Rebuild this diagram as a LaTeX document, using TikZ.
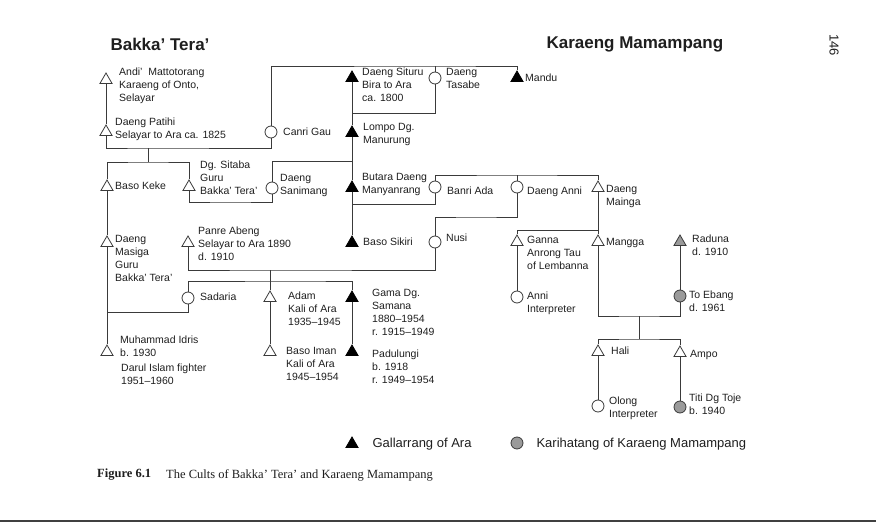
\documentclass[tikz,border=0pt]{standalone}
\usepackage{fontspec}
\setmainfont{Liberation Serif}
\setsansfont{Liberation Sans}
\usetikzlibrary{shapes.geometric}
\definecolor{ink}{HTML}{1E1E1E}
\definecolor{linec}{HTML}{3A3A3A}
\definecolor{karg}{HTML}{9A9A9A}

\begin{document}
\begin{tikzpicture}[x=1pt,y=-1pt,font=\sffamily,
  male/.style={regular polygon,regular polygon sides=3,draw=linec,fill=white,
    line width=0.8pt,minimum size=14pt,inner sep=0pt},
  gall/.style={male,fill=black,draw=black},
  karm/.style={male,fill=karg},
  female/.style={circle,draw=linec,fill=white,line width=0.8pt,
    minimum size=12pt,inner sep=0pt},
  karf/.style={female,fill=karg},
  lbl/.style={anchor=north west,inner sep=0pt,align=left,text=ink,
    font=\sffamily\fontsize{10.5}{13}\selectfont},
  kin/.style={draw=linec,line width=0.8pt}]
  \useasboundingbox (0,0) rectangle (876,522);

  % headings and page number
  \node[anchor=west,text=ink,font=\sffamily\bfseries\fontsize{17}{20}\selectfont] (hbt) at (107,44) {Bakka’ Tera’};
  \node[anchor=west,text=ink,font=\sffamily\bfseries\fontsize{17}{20}\selectfont] (hkm) at (543,44) {Karaeng Mamampang};
  \node[rotate=-90,text=ink,font=\sffamily\fontsize{13}{15}\selectfont] (pg) at (834,45) {146};

  % persons: triangles (men), circles (women)
  \node[male] (andi) at (106,80) {};
  \node[male] (patihi) at (106,132) {};
  \node[female] (canri) at (271,132) {};
  \node[gall] (situru) at (352,78) {};
  \node[female] (tasabe) at (435,78) {};
  \node[gall] (mandu) at (517,78) {};
  \node[gall] (lompo) at (352,133) {};
  \node[male] (basokeke) at (107,187) {};
  \node[male] (sitaba) at (189,187) {};
  \node[female] (sanimang) at (272,188) {};
  \node[gall] (butara) at (352,188) {};
  \node[female] (banri) at (435,187) {};
  \node[female] (danni) at (517,187) {};
  \node[male] (mainga) at (598,188) {};
  \node[male] (masiga) at (107,243) {};
  \node[male] (panre) at (188,243) {};
  \node[gall] (sikiri) at (352,243) {};
  \node[female] (nusi) at (435,242) {};
  \node[male] (ganna) at (517,242) {};
  \node[male] (mangga) at (598,242) {};
  \node[karm] (raduna) at (680,242) {};
  \node[female] (sadaria) at (188,298) {};
  \node[male] (adam) at (270,298) {};
  \node[gall] (gama) at (352,298) {};
  \node[female] (anniint) at (517,297) {};
  \node[karf] (toebang) at (680,296) {};
  \node[male] (idris) at (107,352) {};
  \node[male] (basoiman) at (270,352) {};
  \node[gall] (padulungi) at (352,352) {};
  \node[male] (hali) at (598,352) {};
  \node[male] (ampo) at (680,353) {};
  \node[female] (olong) at (598,406) {};
  \node[karf] (titi) at (680,407) {};

  % names
  \node[lbl] (andi-l) at (119,68) {Andi’~ Mattotorang\\Karaeng of Onto,\\Selayar};
  \node[lbl] (patihi-l) at (115,118) {Daeng Patihi\\Selayar to Ara ca. 1825};
  \node[lbl] (canri-l) at (283,128) {Canri Gau};
  \node[lbl] (situru-l) at (362,68) {Daeng Situru\\Bira to Ara\\ca. 1800};
  \node[lbl] (tasabe-l) at (446,68) {Daeng\\Tasabe};
  \node[lbl] (mandu-l) at (525,74) {Mandu};
  \node[lbl] (lompo-l) at (363,123) {Lompo Dg.\\Manurung};
  \node[lbl] (basokeke-l) at (115,182) {Baso Keke};
  \node[lbl] (sitaba-l) at (200,161) {Dg. Sitaba\\Guru\\Bakka’ Tera’};
  \node[lbl] (sanimang-l) at (280,174) {Daeng\\Sanimang};
  \node[lbl] (butara-l) at (362,173) {Butara Daeng\\Manyanrang};
  \node[lbl] (banri-l) at (447,187) {Banri Ada};
  \node[lbl] (danni-l) at (527,187) {Daeng Anni};
  \node[lbl] (mainga-l) at (606,185) {Daeng\\Mainga};
  \node[lbl] (masiga-l) at (115,235) {Daeng\\Masiga\\Guru\\Bakka’ Tera’};
  \node[lbl] (panre-l) at (198,227) {Panre Abeng\\Selayar to Ara 1890\\d. 1910};
  \node[lbl] (sikiri-l) at (363,238) {Baso Sikiri};
  \node[lbl] (nusi-l) at (446,234) {Nusi};
  \node[lbl] (ganna-l) at (527,236) {Ganna\\Anrong Tau\\of Lembanna};
  \node[lbl] (mangga-l) at (606,238) {Mangga};
  \node[lbl] (raduna-l) at (692,235) {Raduna\\d. 1910};
  \node[lbl] (sadaria-l) at (200,293) {Sadaria};
  \node[lbl] (adam-l) at (288,292) {Adam\\Kali of Ara\\1935–1945};
  \node[lbl] (gama-l) at (372,289) {Gama Dg.\\Samana\\1880–1954\\r. 1915–1949};
  \node[lbl] (anniint-l) at (527,292) {Anni\\Interpreter};
  \node[lbl] (toebang-l) at (689,291) {To Ebang\\d. 1961};
  \node[lbl] (idris-l) at (120,336) {Muhammad Idris\\b. 1930};
  \node[lbl] (darul-l) at (121,364) {Darul Islam fighter\\1951–1960};
  \node[lbl] (basoiman-l) at (286,347) {Baso Iman\\Kali of Ara\\1945–1954};
  \node[lbl] (padulungi-l) at (372,350) {Padulungi\\b. 1918\\r. 1949–1954};
  \node[lbl] (hali-l) at (611,347) {Hali};
  \node[lbl] (ampo-l) at (690,350) {Ampo};
  \node[lbl] (olong-l) at (609,397) {Olong\\Interpreter};
  \node[lbl] (titi-l) at (689,394) {Titi Dg Toje\\b. 1940};

  % junctions
  \coordinate (pc) at (148,148);
  \coordinate (pck) at (148,162);
  \coordinate (top) at (435,66);
  \coordinate (st) at (352,113);
  \coordinate (ls) at (352,161);
  \coordinate (ss) at (230,202);
  \coordinate (bb) at (352,204);
  \coordinate (sib) at (517,175);
  \coordinate (dn) at (476,217);
  \coordinate (pn) at (270,270);
  \coordinate (sg) at (300,281);
  \coordinate (ms) at (107,312);
  \coordinate (mg) at (598,230);
  \coordinate (mt) at (639,316);
  \coordinate (mtk) at (639,339);

  % lines of descent and marriage
  \draw[kin] (andi) -- (patihi);
  \draw[kin] (patihi) |- (pc) -| (canri);
  \draw[kin] (pc) -- (pck);
  \draw[kin] (basokeke) |- (pck) -| (sitaba);
  \draw[kin] (basokeke) -- (masiga);
  \draw[kin] (masiga) -- (idris);
  \draw[kin] (sadaria) |- (ms);
  \draw[kin] (canri) |- (top) -| (mandu);
  \draw[kin] (top) -- (tasabe);
  \draw[kin] (tasabe) |- (st);
  \draw[kin] (situru) -- (lompo);
  \draw[kin] (lompo) -- (butara);
  \draw[kin] (butara) -- (sikiri);
  \draw[kin] (sanimang) |- (ls);
  \draw[kin] (sanimang) |- (ss) -| (sitaba);
  \draw[kin] (banri) |- (bb);
  \draw[kin] (banri) |- (sib) -| (mainga);
  \draw[kin] (sib) -- (danni);
  \draw[kin] (nusi) |- (dn) -| (danni);
  \draw[kin] (panre) |- (pn) -| (nusi);
  \draw[kin] (pn) -- (adam);
  \draw[kin] (adam) -- (basoiman);
  \draw[kin] (sadaria) |- (sg) -| (gama);
  \draw[kin] (gama) -- (padulungi);
  \draw[kin] (mainga) -- (mangga);
  \draw[kin] (ganna) |- (mg);
  \draw[kin] (ganna) -- (anniint);
  \draw[kin] (raduna) -- (toebang);
  \draw[kin] (mangga) |- (mt) -| (toebang);
  \draw[kin] (mt) -- (mtk);
  \draw[kin] (hali) |- (mtk) -| (ampo);
  \draw[kin] (hali) -- (olong);
  \draw[kin] (ampo) -- (titi);

  % key
  \node[gall] (key-g) at (352,444) {};
  \node[anchor=west,text=ink,font=\sffamily\fontsize{13}{15}\selectfont] (key-g-l) at (369,444) {Gallarrang of Ara};
  \node[karf] (key-k) at (517,443) {};
  \node[anchor=west,text=ink,font=\sffamily\fontsize{13}{15}\selectfont] (key-k-l) at (533,444) {Karihatang of Karaeng Mamampang};

  % caption and page edge
  \node[anchor=west,inner sep=0pt,text=ink,font=\rmfamily\bfseries\fontsize{12.5}{15}\selectfont] (fig) at (97,475) {Figure 6.1};
  \node[anchor=west,inner sep=0pt,text=ink,font=\rmfamily\fontsize{12.5}{15}\selectfont] (cap) at (166,475) {The Cults of Bakka’ Tera’ and Karaeng Mamampang};
  \fill[black!75] (0,519.5) rectangle (876,522);
\end{tikzpicture}
\end{document}
